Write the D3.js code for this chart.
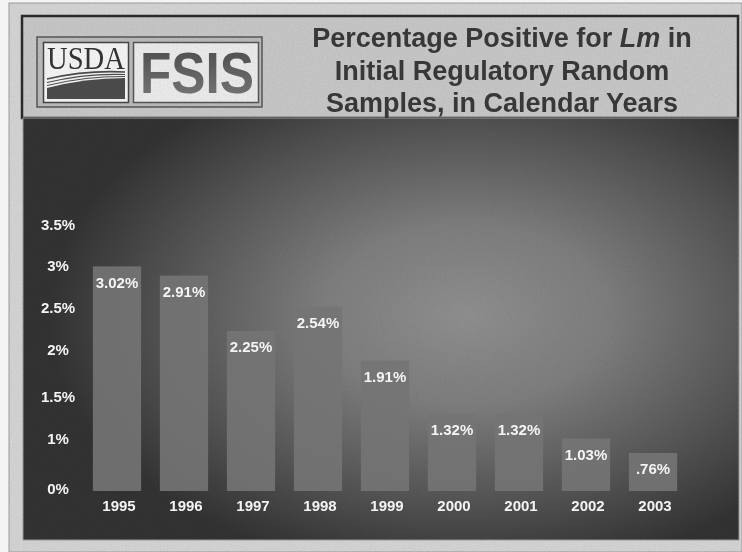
<!DOCTYPE html>
<html>
<head>
<meta charset="utf-8">
<script src="https://cdn.jsdelivr.net/npm/d3@7"></script>
<style>
  html, body { margin: 0; padding: 0; background: #f4f4f4; }
  svg { display: block; }
</style>
</head>
<body>
<svg id="chart" width="742" height="552"></svg>
<script>
// Lm percentage positive, initial regulatory random samples, by calendar year
const years = ["1995", "1996", "1997", "1998", "1999", "2000", "2001", "2002", "2003"];
const values = [3.02, 2.91, 2.25, 2.54, 1.91, 1.32, 1.32, 1.03, 0.76];
const valueLabels = ["3.02%", "2.91%", "2.25%", "2.54%", "1.91%", "1.32%", "1.32%", "1.03%", ".76%"];
const yTicks = [0, 1, 1.5, 2, 2.5, 3, 3.5];
const yTickLabels = ["0%", "1%", "1.5%", "2%", "2.5%", "3%", "3.5%"];

const svg = d3.select("#chart");
const defs = svg.append("defs");

// paper grain
const grain = defs.append("filter").attr("id", "grain")
  .attr("x", 0).attr("y", 0).attr("width", "100%").attr("height", "100%");
grain.append("feTurbulence").attr("type", "fractalNoise")
  .attr("baseFrequency", 0.55).attr("numOctaves", 2).attr("seed", 4).attr("result", "n");
grain.append("feColorMatrix").attr("type", "matrix")
  .attr("values", "0 0 0 0 0.5  0 0 0 0 0.5  0 0 0 0 0.5  0 0 0 0.9 -0.35");

// panel shading
const rg = defs.append("radialGradient").attr("id", "panelShade")
  .attr("gradientUnits", "userSpaceOnUse")
  .attr("cx", 465).attr("cy", 315).attr("r", 260)
  .attr("gradientTransform", "translate(465,315) scale(1.6,1) translate(-465,-315)");
[[0, "#8e8e8e"], [0.35, "#7c7c7c"], [0.7, "#555555"], [1, "#323232"]]
  .forEach(([o, c]) => rg.append("stop").attr("offset", o).attr("stop-color", c));

const fsisGrad = defs.append("linearGradient").attr("id", "fsisGrad")
  .attr("x1", 0).attr("y1", 0).attr("x2", 0).attr("y2", 1);
fsisGrad.append("stop").attr("offset", 0).attr("stop-color", "#4a4a4a");
fsisGrad.append("stop").attr("offset", 1).attr("stop-color", "#7a7a7a");

// slide background
svg.append("rect").attr("x", 9).attr("y", 3).attr("width", 733).attr("height", 549)
  .attr("fill", "#d2d2d2").attr("stroke", "#9a9a9a").attr("stroke-width", 1);

// header band
svg.append("rect").attr("x", 22).attr("y", 16).attr("width", 716).attr("height", 102)
  .attr("fill", "#c5c5c5").attr("stroke", "#2a2a2a").attr("stroke-width", 2.5);

// chart panel
svg.append("rect").attr("x", 23).attr("y", 118).attr("width", 716).attr("height", 422)
  .attr("fill", "url(#panelShade)").attr("stroke", "#9a9a9a").attr("stroke-width", 1);

// logo
const logo = svg.append("g");
logo.append("rect").attr("x", 37).attr("y", 37).attr("width", 225).attr("height", 70)
  .attr("fill", "#b9b9b9").attr("stroke", "#555").attr("stroke-width", 1.5);
logo.append("rect").attr("x", 43.5).attr("y", 42.5).attr("width", 85).attr("height", 60)
  .attr("fill", "#f2f2f2").attr("stroke", "#444").attr("stroke-width", 1.5);
logo.append("text").attr("x", 47).attr("y", 68.5)
  .attr("textLength", 78).attr("lengthAdjust", "spacingAndGlyphs")
  .attr("font-family", "'Liberation Serif', 'DejaVu Serif', serif")
  .attr("font-size", 31).attr("fill", "#333").text("USDA");
// field and sweep lines
logo.append("path")
  .attr("d", "M47,88 Q85,78 125,78 L125,99 L47,99 Z").attr("fill", "#4b4b4b");
[["M47,79 Q86,70 125,72", 1.6], ["M47,82.5 Q86,73 125,74.5", 1.2], ["M47,85.5 Q86,76 125,76.5", 1]]
  .forEach(([d, w]) => logo.append("path").attr("d", d)
    .attr("fill", "none").attr("stroke", "#4b4b4b").attr("stroke-width", w));
logo.append("rect").attr("x", 133.5).attr("y", 42.5).attr("width", 125).attr("height", 60)
  .attr("fill", "#e9e9e9").attr("stroke", "#555").attr("stroke-width", 1.5);
logo.append("text").attr("x", 140).attr("y", 93)
  .attr("textLength", 114).attr("lengthAdjust", "spacingAndGlyphs")
  .attr("font-family", "'Liberation Sans', Arial, sans-serif").attr("font-weight", "bold")
  .attr("font-size", 57).attr("fill", "url(#fsisGrad)").text("FSIS");

// title
const title = svg.append("text")
  .attr("font-family", "'Liberation Sans', Arial, sans-serif").attr("font-weight", "bold")
  .attr("font-size", 27).attr("fill", "#383838").attr("text-anchor", "middle");
const t1 = title.append("tspan").attr("x", 502).attr("y", 47);
t1.append("tspan").text("Percentage Positive for ");
t1.append("tspan").attr("font-style", "italic").text("Lm");
t1.append("tspan").text(" in");
title.append("tspan").attr("x", 502).attr("y", 80).text("Initial Regulatory Random");
title.append("tspan").attr("x", 502).attr("y", 112).text("Samples, in Calendar Years");

// grain over the light areas
svg.append("rect").attr("x", 9).attr("y", 3).attr("width", 733).attr("height", 549)
  .attr("filter", "url(#grain)").attr("opacity", 0.35).style("mix-blend-mode", "multiply");

// scales; the value axis is piecewise, with a short first step from 0% to 1%
const x = d3.scaleBand().domain(years).range([83.5, 686.5])
  .paddingInner(0.28).paddingOuter(0.14);
const y = d3.scaleLinear().domain(yTicks).range([491, 441, 399, 352, 310, 268, 227]);

const labelFont = "'Liberation Sans', Arial, sans-serif";

// bars
svg.append("g").selectAll("rect").data(values).join("rect")
  .attr("x", (d, i) => x(years[i]))
  .attr("y", d => y(d))
  .attr("width", x.bandwidth())
  .attr("height", d => y(0) - y(d))
  .attr("fill", "#747474").attr("fill-opacity", 0.9);

// value labels inside the bars
svg.append("g").selectAll("text").data(values).join("text")
  .attr("x", (d, i) => x(years[i]) + x.bandwidth() / 2)
  .attr("y", d => y(d) + 16)
  .attr("dy", "0.35em")
  .attr("text-anchor", "middle")
  .attr("font-family", labelFont).attr("font-weight", "bold").attr("font-size", 15)
  .attr("fill", "#f4f4f4")
  .text((d, i) => valueLabels[i]);

// y axis
const yAxis = svg.append("g").attr("transform", "translate(58,-2)")
  .call(d3.axisLeft(y).tickValues(yTicks).tickSize(0)
    .tickFormat((d, i) => yTickLabels[i]));
yAxis.select(".domain").remove();
yAxis.selectAll("text").attr("x", 0).attr("text-anchor", "middle")
  .attr("font-family", labelFont).attr("font-weight", "bold").attr("font-size", 15)
  .attr("fill", "#f4f4f4");

// x axis
const xAxis = svg.append("g").attr("transform", "translate(2,506)")
  .call(d3.axisBottom(x).tickSize(0));
xAxis.select(".domain").remove();
xAxis.selectAll("text").attr("y", 0).attr("dy", "0.35em")
  .attr("font-family", labelFont).attr("font-weight", "bold").attr("font-size", 15)
  .attr("fill", "#f4f4f4");
</script>
</body>
</html>
